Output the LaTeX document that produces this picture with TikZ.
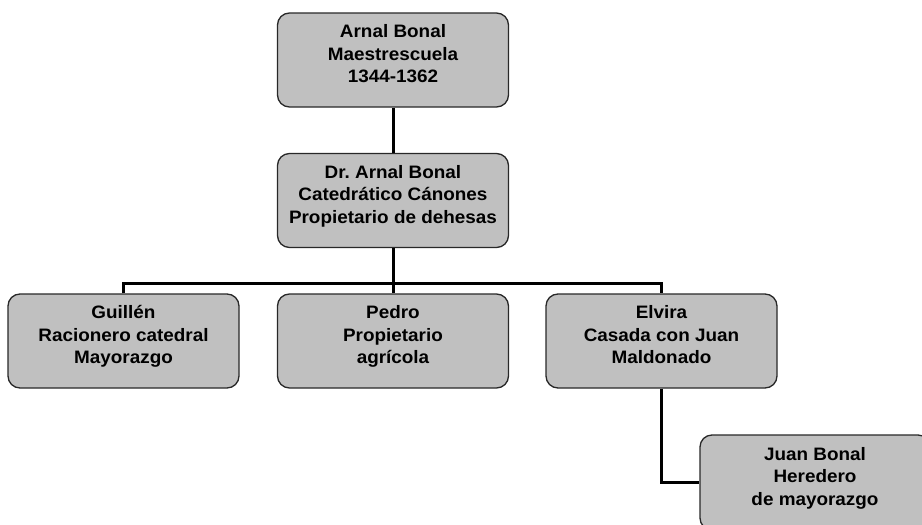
\documentclass[tikz,border=0pt]{standalone}
\usepackage{fontspec}
\setmainfont{Liberation Sans}[FakeStretch=1.05]
\definecolor{boxgray}{RGB}{192,192,192}
\definecolor{boxline}{RGB}{40,40,40}
\newcommand\bxt[1]{\smash{\begin{tabular}[c]{@{}c@{}}#1\end{tabular}}}
\begin{document}
\begin{tikzpicture}[x=1pt,y=-1pt,
  box/.style={draw=boxline, line width=1.3pt, fill=boxgray, rounded corners=12pt,
    minimum width=231pt, minimum height=94pt, inner sep=0pt, align=center,
    font=\bfseries\fontsize{18}{22.5}\selectfont\frenchspacing},
  link/.style={line width=3pt, draw=black}]
\useasboundingbox (0,0) rectangle (922,525);
\begin{scope}
\clip (0,0) rectangle (922,525);
\node[box] (top) at (393,60) {\bxt{Arnal Bonal\\Maestrescuela\\1344-1362}};
\node[box] (second) at (393,200.5) {\bxt{Dr. Arnal Bonal\\Catedrático Cánones\\Propietario de dehesas}};
\node[box] (guillen) at (123.5,341) {\bxt{Guillén\\Racionero catedral\\Mayorazgo}};
\node[box] (pedro) at (393,341) {\bxt{Pedro\\Propietario\\agrícola}};
\node[box] (elvira) at (661.5,341) {\bxt{Elvira\\Casada con Juan\\Maldonado}};
\node[box, minimum width=230pt, minimum height=95pt] (juan) at (815,482.5) {\bxt{Juan Bonal\\Heredero\\de mayorazgo}};
\coordinate (bus) at (393,283);
\draw[link] (top.south) -- (second.north);
\draw[link] (second.south) -- (pedro.north);
\draw[link] (guillen.north) |- (bus) -| (elvira.north);
\draw[link] (elvira.south) |- (juan.west);
\end{scope}
\end{tikzpicture}
\end{document}
